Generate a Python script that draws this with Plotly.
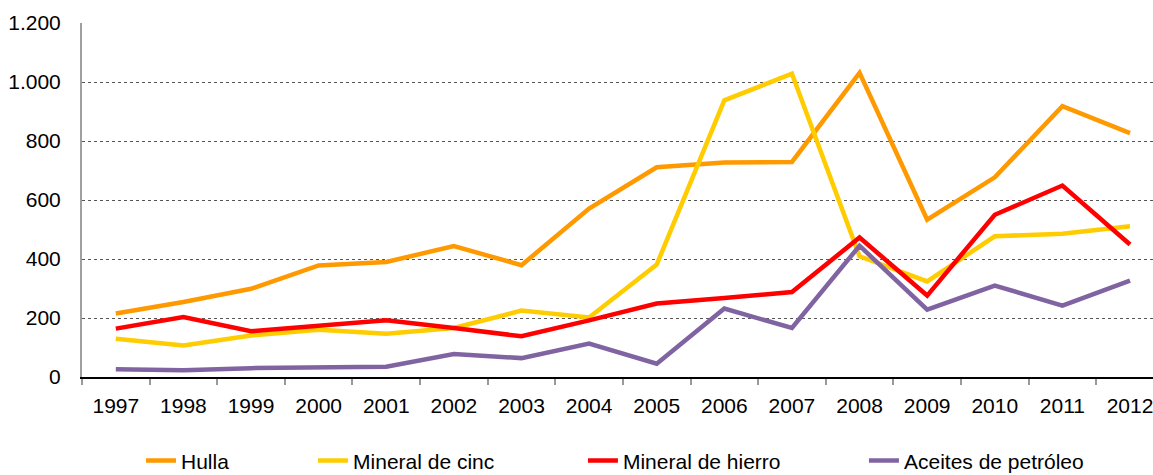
import plotly.graph_objects as go

years = [str(y) for y in range(1997, 2013)]
hulla = [215, 254, 299, 378, 390, 444, 379, 571, 711, 727, 729, 1031, 533, 677, 918, 827]
cinc = [130, 107, 141, 160, 147, 166, 225, 202, 381, 938, 1028, 409, 324, 477, 486, 511]
hierro = [164, 203, 155, 175, 192, 166, 138, 192, 249, 268, 288, 473, 276, 550, 649, 449]
aceites = [26, 23, 30, 33, 35, 78, 64, 113, 45, 232, 166, 445, 228, 310, 242, 327]

series = [
    ("Hulla", hulla, "#FF9900"),
    ("Mineral de cinc", cinc, "#FFCC00"),
    ("Mineral de hierro", hierro, "#FF0000"),
    ("Aceites de petróleo", aceites, "#8064A2"),
]

# legend item left edges (container x)
legend_x = [0.1223, 0.2715, 0.5056, 0.7493]

fig = go.Figure()
for i, (name, vals, col) in enumerate(series):
    lg = "legend" if i == 0 else f"legend{i+1}"
    fig.add_trace(go.Scatter(x=years, y=vals, mode="lines", name=name,
                             line=dict(color=col, width=4.5),
                             legend=lg))

legend_font = dict(family="Liberation Sans", size=21, color="black")
for i, lx in enumerate(legend_x):
    key = "legend" if i == 0 else f"legend{i+1}"
    fig.update_layout({key: dict(x=lx, y=0.03, xref="container", yref="container",
                                 xanchor="left", yanchor="middle",
                                 orientation="h", font=legend_font,
                                 bgcolor="rgba(0,0,0,0)", itemwidth=30)})

fig.update_layout(
    width=1153, height=475,
    margin=dict(l=82, r=0, t=23, b=98),
    paper_bgcolor="white", plot_bgcolor="white",
    separators=",.",
    font=dict(family="Liberation Sans", size=21, color="black"),
    showlegend=True,
)
fig.update_xaxes(type="category", range=[-0.5, 15.34], tickson="boundaries",
                 ticks="outside", ticklen=6, tickcolor="#999999", tickwidth=1.5,
                 showline=True, linecolor="black", linewidth=1.5,
                 showgrid=False, ticklabelstandoff=9, zeroline=False,
                 automargin=False)
fig.update_yaxes(range=[0, 1200], dtick=200, tickformat=",d",
                 showgrid=True, gridcolor="#555555", griddash="dot", gridwidth=1,
                 showline=True, linecolor="#A0A0A0", linewidth=2,
                 ticks="", ticklabelstandoff=15, zeroline=False,
                 automargin=False)

# drop the default 8px body margin so the figure sits at the window corner
fig.write_html("out.html", config={"displayModeBar": False},
               post_script="document.body.style.margin='0';")
